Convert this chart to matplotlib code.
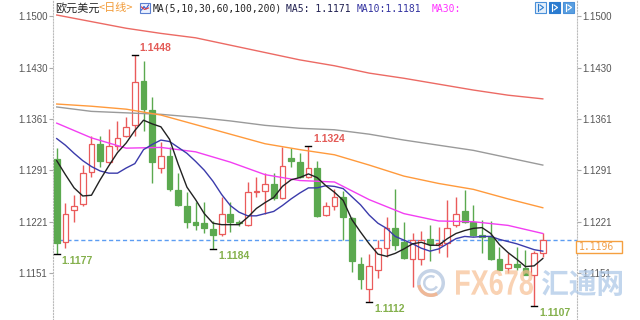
import matplotlib
matplotlib.use('Agg')
from matplotlib import pyplot as plt
from matplotlib.patches import Rectangle, PathPatch, Wedge
from matplotlib.textpath import TextPath
from matplotlib.font_manager import FontProperties
from matplotlib.transforms import Affine2D
import numpy as np

plt.rcParams['font.family'] = ['Liberation Sans', 'DejaVu Sans']
cjk = ['Noto Sans CJK SC', 'DejaVu Sans']

# EUR/USD daily candles, oldest first
opens = [1.1306, 1.1193, 1.1237, 1.1245, 1.1288, 1.1326, 1.1302, 1.1324, 1.1337, 1.1352,
         1.1412, 1.1373, 1.1294, 1.1311, 1.1264, 1.1242, 1.1220, 1.1219, 1.1211, 1.1204,
         1.1231, 1.1221, 1.1217, 1.1261, 1.1263, 1.1272, 1.1253, 1.1307, 1.1302, 1.1282,
         1.1294, 1.1230, 1.1243, 1.1255, 1.1226, 1.1164, 1.1130, 1.1155, 1.1185, 1.1212,
         1.1194, 1.1171, 1.1170, 1.1197, 1.1189, 1.1192, 1.1217, 1.1236, 1.1220, 1.1203,
         1.1200, 1.1171, 1.1158, 1.1163, 1.1158, 1.1149, 1.1179]
highs = [1.1321, 1.1246, 1.1257, 1.1298, 1.1337, 1.1337, 1.1347, 1.1358, 1.1363, 1.1448,
         1.1439, 1.1391, 1.1330, 1.1323, 1.1287, 1.1262, 1.1248, 1.1248, 1.1222, 1.1254,
         1.1248, 1.1223, 1.1275, 1.1282, 1.1287, 1.1287, 1.1322, 1.1321, 1.1314, 1.1324,
         1.1304, 1.1248, 1.1266, 1.1263, 1.1228, 1.1173, 1.1177, 1.1196, 1.1228, 1.1265,
         1.1220, 1.1206, 1.1209, 1.1216, 1.1214, 1.1250, 1.1255, 1.1264, 1.1244, 1.1224,
         1.1222, 1.1187, 1.1178, 1.1186, 1.1182, 1.1181, 1.1205]
lows = [1.1177, 1.1185, 1.1221, 1.1243, 1.1282, 1.1296, 1.1301, 1.1318, 1.1336, 1.1338,
        1.1345, 1.1273, 1.1287, 1.1263, 1.1242, 1.1212, 1.1210, 1.1205, 1.1184, 1.1201,
        1.1207, 1.1215, 1.1215, 1.1255, 1.1232, 1.1251, 1.1252, 1.1296, 1.1280, 1.1281,
        1.1227, 1.1229, 1.1237, 1.1196, 1.1153, 1.1130, 1.1112, 1.1145, 1.1173, 1.1182,
        1.1170, 1.1132, 1.1162, 1.1167, 1.1178, 1.1173, 1.1214, 1.1219, 1.1201, 1.1178,
        1.1169, 1.1155, 1.1151, 1.1155, 1.1148, 1.1107, 1.1173]
closes = [1.1192, 1.1232, 1.1243, 1.1287, 1.1326, 1.1303, 1.1324, 1.1335, 1.1350, 1.1411,
          1.1374, 1.1302, 1.1311, 1.1265, 1.1244, 1.1220, 1.1217, 1.1212, 1.1203, 1.1231,
          1.1221, 1.1219, 1.1261, 1.1263, 1.1272, 1.1253, 1.1297, 1.1303, 1.1282, 1.1294,
          1.1229, 1.1243, 1.1255, 1.1227, 1.1167, 1.1143, 1.1161, 1.1185, 1.1212, 1.1190,
          1.1172, 1.1196, 1.1196, 1.1191, 1.1192, 1.1213, 1.1231, 1.1220, 1.1203, 1.1200,
          1.1171, 1.1156, 1.1164, 1.1159, 1.1149, 1.1178, 1.1196]

# short moving averages, one value per candle
ma5 = [1.1304, 1.1285, 1.1267, 1.1256, 1.1257, 1.1278, 1.1297, 1.1315, 1.1328, 1.1345,
       1.1359, 1.1354, 1.1350, 1.1333, 1.1299, 1.1268, 1.1251, 1.1232, 1.1219, 1.1217,
       1.1217, 1.1217, 1.1227, 1.1239, 1.1247, 1.1254, 1.1269, 1.1278, 1.1281, 1.1286,
       1.1281, 1.1270, 1.1261, 1.1250, 1.1224, 1.1207, 1.1191, 1.1177, 1.1174, 1.1178,
       1.1184, 1.1191, 1.1193, 1.1189, 1.1189, 1.1198, 1.1205, 1.1209, 1.1212, 1.1213,
       1.1205, 1.1190, 1.1179, 1.1170, 1.1160, 1.1161, 1.1171]
ma10 = [1.1334, 1.1325, 1.1314, 1.1304, 1.1296, 1.1290, 1.1287, 1.1287, 1.1294, 1.1300,
        1.1319, 1.1326, 1.1332, 1.1330, 1.1322, 1.1314, 1.1303, 1.1291, 1.1276, 1.1258,
        1.1243, 1.1234, 1.1229, 1.1229, 1.1232, 1.1235, 1.1243, 1.1252, 1.1260, 1.1267,
        1.1267, 1.1270, 1.1269, 1.1266, 1.1255, 1.1244, 1.1230, 1.1219, 1.1212, 1.1201,
        1.1196, 1.1191, 1.1185, 1.1181, 1.1184, 1.1191, 1.1198, 1.1201, 1.1200, 1.1201,
        1.1201, 1.1197, 1.1194, 1.1191, 1.1187, 1.1183, 1.1181]

# long moving averages, read every 4th candle
ma_step = 4
ma30 = [1.1355, 1.1335, 1.1321, 1.1322, 1.1316, 1.1302, 1.1285, 1.1277,
        1.1275, 1.1251, 1.1232, 1.1222, 1.1221, 1.1216, 1.1205]
ma60 = [1.1381, 1.1378, 1.1374, 1.1366, 1.1353, 1.1340, 1.1327, 1.1319,
        1.1312, 1.1298, 1.1283, 1.1273, 1.1265, 1.1252, 1.1240]
ma100 = [1.1377, 1.1371, 1.1369, 1.1367, 1.1363, 1.1358, 1.1352, 1.1348,
         1.1346, 1.1340, 1.1332, 1.1325, 1.1318, 1.1308, 1.1298]
ma200 = [1.1502, 1.1493, 1.1484, 1.1477, 1.1471, 1.1461, 1.1451, 1.1441,
         1.1433, 1.1423, 1.1416, 1.1408, 1.1400, 1.1393, 1.1388]

yticks = [1.1151, 1.1221, 1.1291, 1.1361, 1.1430, 1.1500]
last_price = 1.1196

# labelled extremes: candle index, price, high?
extremes = [(9, 1.1448, True), (29, 1.1324, True), (0, 1.1177, False),
            (18, 1.1184, False), (36, 1.1112, False), (55, 1.1107, False)]

up_col = '#ea5b5b'
down_col = '#5ba94f'

W, H = 640, 320
fig = plt.figure(figsize=(W / 100, H / 100), dpi=100)
ax = fig.add_axes([53 / W, 0, 524 / W, 1])
pix = Affine2D().scale(1 / W, 1 / H) + fig.transFigure  # figure pixels, y up

x = np.arange(len(closes))
o, h, l, c = map(np.array, (opens, highs, lows, closes))
up = c >= o
dn = ~up
body = np.maximum(np.abs(c - o), 2.5e-5)

ax.vlines(x[up], l[up], h[up], color=up_col, lw=1, zorder=2)
ax.vlines(x[dn], l[dn], h[dn], color=down_col, lw=1, zorder=2)
ax.bar(x[up], body[up], 0.66, bottom=np.minimum(o, c)[up], facecolor='white',
       edgecolor=up_col, lw=0.9, zorder=3)
ax.bar(x[dn], body[dn], 0.66, bottom=np.minimum(o, c)[dn], facecolor=down_col,
       edgecolor=down_col, lw=0.9, zorder=3)

xs = x[::ma_step]
ax.plot(xs, ma200, color='#ec6a64', lw=1, zorder=4)
ax.plot(xs, ma100, color='#9a9a9a', lw=1, zorder=4)
ax.plot(xs, ma60, color='#ff9a3c', lw=1, zorder=4)
ax.plot(xs, ma30, color='#f23ef2', lw=1, zorder=4)
ax.plot(x, ma10, color='#3b3bab', lw=1, zorder=4)
ax.plot(x, ma5, color='#222222', lw=1, zorder=5)

ax.axhline(last_price, color='#5c9df2', lw=1, ls=(0, (3, 2)), zorder=1)

for i, v, hi in extremes:
    ax.plot([i - 0.35, i + 0.35], [v, v], color='black', lw=1, zorder=6)
    ax.annotate(f'{v:.4f}', (i, v), xytext=(5, 7 if hi else -7),
                textcoords='offset pixels', ha='left', va='center',
                fontsize=7.5, fontweight='bold',
                color='#e35a56' if hi else '#84b04c', zorder=6)

ax.set_xlim(-0.43, 59.94)
ax.set_ylim(1.10874, 1.15224)
ax.set_xticks([])
ax.set_yticks(yticks)
ax.set_yticklabels([f'{v:.4f}' for v in yticks])
ax.tick_params(axis='y', left=True, right=True, labelleft=True, labelright=True,
               length=3, width=0.8, color='#aaaaaa', labelsize=7,
               labelcolor='#555555', pad=1)
for side in ('top', 'bottom'):
    ax.spines[side].set_visible(False)
for side in ('left', 'right'):
    ax.spines[side].set_linestyle(':')
    ax.spines[side].set_color('#bbbbbb')


def ftext(xp, yp, s, **kw):
    fig.text(xp / W, 1 - yp / H, s, ha='left', va='center', **kw)


def path_text(s, x0, y0, x1, y1, fp, **kw):
    # text stretched into the pixel box (x0, y0)-(x1, y1), y measured from top
    tp = TextPath((0, 0), s, size=10, prop=fp)
    bb = tp.get_extents()
    tr = Affine2D().translate(-bb.x0, -bb.y0).scale((x1 - x0) / bb.width, (y1 - y0) / bb.height) \
        .translate(x0, H - y1) + pix
    fig.add_artist(PathPatch(tp, transform=tr, lw=0, **kw))


# header line
ftext(55, 8.5, '欧元美元', family=cjk, fontsize=8, color='#222222')
ftext(99, 8.5, '<日线>', family=cjk, fontsize=8, color='#f29a36')
fig.add_artist(Rectangle((140, H - 13), 10, 10, transform=pix, facecolor='#eaf1ff',
                         edgecolor='#5b7fd0', lw=0.8))
fig.add_artist(plt.Line2D([141.5, 144, 146, 148.5], [H - 10, H - 6.5, H - 9, H - 5],
                          transform=pix, color='#3355cc', lw=0.8))
fig.add_artist(plt.Line2D([141.5, 144.5, 148.5], [H - 7, H - 9.5, H - 8],
                          transform=pix, color='#e04040', lw=0.8))
mono = 'DejaVu Sans Mono'
ftext(152.5, 8.5, 'MA(5,10,30,60,100,200)', family=mono, fontsize=7, color='#222222')
ftext(286, 8.5, 'MA5: 1.1171', family=mono, fontsize=7, color='#1f1f50')
ftext(357, 8.5, 'MA10:1.1181', family=mono, fontsize=7, color='#3333a0')
ftext(432, 8.5, 'MA30:', family=mono, fontsize=7, color='#ff33ff')

# buttons top right
for bx, fc, ec in [(535, '#e4effa', '#4a90d9'), (549, '#2a7bd0', '#2a7bd0'), (563, '#5a9fe0', '#4a90d9')]:
    fig.add_artist(Rectangle((bx, H - 13), 11, 11, transform=pix, facecolor=fc,
                             edgecolor=ec, lw=0.8))
    glyph = '#2a7bd0' if fc == '#e4effa' else 'white'
    fig.add_artist(plt.Line2D([bx + 3, bx + 3], [H - 11, H - 4], transform=pix, color=glyph, lw=0.8))
    fig.add_artist(plt.Line2D([bx + 5, bx + 8.5, bx + 5], [H - 10, H - 7.5, H - 5],
                              transform=pix, color=glyph, lw=0.8))

# last price box
fig.add_artist(Rectangle((576, H - 252.5), 46, 12, transform=pix, facecolor='white',
                         edgecolor='#f5a040', lw=1))
ftext(579, 246.5, '1.1196', family=mono, fontsize=7, color='#f0a04c')

# watermark
fig.add_artist(Wedge((431, H - 283), 14, 0, 360, width=3.5, transform=pix,
                     facecolor='#b7c8e0', edgecolor='none', alpha=0.8))
fig.add_artist(Wedge((431, H - 283), 14, 190, 300, width=3.5, transform=pix,
                     facecolor='#f7b48a', edgecolor='none', alpha=0.85))
fig.add_artist(Wedge((431, H - 283), 8, 60, 330, width=2.5, transform=pix,
                     facecolor='#b7c8e0', edgecolor='none', alpha=0.8))
path_text('FX678', 456, 270, 533, 295, FontProperties(family='Liberation Sans', weight='bold'),
          facecolor='#f7bf93', alpha=0.7)
path_text('汇通网', 542, 270, 622, 296, FontProperties(family='Noto Sans CJK SC', weight='bold'),
          facecolor='#a9c5e6', alpha=0.7)

fig.savefig('out.png', dpi=100, facecolor='white')
